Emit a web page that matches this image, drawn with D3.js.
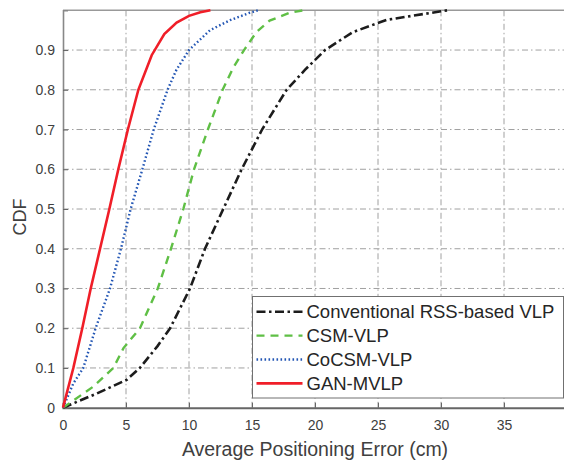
<!DOCTYPE html>
<html>
<head>
<meta charset="utf-8">
<script src="https://cdn.jsdelivr.net/npm/d3@7"></script>
<style>
  body { margin: 0; background: #fff; }
  svg { display: block; font-family: "Liberation Sans", Arial, sans-serif; }
</style>
</head>
<body>
<div id="chart"></div>
<script>
// data (error in cm, CDF)
var conventionalX = [0, 2.7, 5.05, 6.1, 7.5, 8.5, 10.08, 11.27, 12.72, 14.18, 15.8, 17.75, 19.2, 20.8, 23.0, 25.7, 30.5];
var conventionalY = [0, 0.036, 0.07, 0.1, 0.155, 0.2, 0.3, 0.4, 0.5, 0.6, 0.7, 0.8, 0.85, 0.9, 0.945, 0.976, 1.0];

var csmX = [0, 2.4, 4.0, 4.8, 6.11, 7.52, 8.57, 9.55, 10.4, 11.5, 12.67, 13.5, 14.37, 15.37, 16.4, 18.0, 19.1];
var csmY = [0, 0.053, 0.1, 0.15, 0.2, 0.3, 0.4, 0.5, 0.6, 0.7, 0.8, 0.855, 0.9, 0.946, 0.974, 0.994, 1.0];

var cocsmX = [0, 0.82, 1.61, 2.59, 3.73, 4.6, 5.37, 6.3, 7.2, 8.3, 9.0, 10.0, 11.67, 13.25, 14.84, 15.5];
var cocsmY = [0, 0.061, 0.1, 0.2, 0.3, 0.4, 0.5, 0.6, 0.7, 0.8, 0.85, 0.9, 0.95, 0.975, 0.994, 1.0];

var ganX = [0, 0.82, 1.53, 2.2, 2.94, 3.68, 4.39, 5.15, 5.98, 7.04, 8.04, 9.02, 10.0, 10.9, 11.7];
var ganY = [0, 0.1, 0.2, 0.3, 0.4, 0.5, 0.6, 0.7, 0.8, 0.887, 0.94, 0.969, 0.986, 0.995, 1.0];

var seriesNames = ["Conventional RSS-based VLP", "CSM-VLP", "CoCSM-VLP", "GAN-MVLP"];
var xTicks = [0, 5, 10, 15, 20, 25, 30, 35];
var yTicks = [0, 0.1, 0.2, 0.3, 0.4, 0.5, 0.6, 0.7, 0.8, 0.9];

var svgWidth = 564;
var svgHeight = 460;

var margin = { top: 10.3, left: 63 };
var width = 504;
var height = 397.4;

var styles = [
  { color: "#1c1c1c", dash: "9,3.5,2.5,3.5", w: 2.6 },
  { color: "#5fbf45", dash: "8,6", w: 2.4 },
  { color: "#2356b4", dash: "1.6,2.4", w: 2.4 },
  { color: "#f01e28", dash: null, w: 2.6 }
];

var series = [
  d3.zip(conventionalX, conventionalY),
  d3.zip(csmX, csmY),
  d3.zip(cocsmX, cocsmY),
  d3.zip(ganX, ganY)
];

var svg = d3.select("#chart")
  .append("svg")
  .attr("width", svgWidth)
  .attr("height", svgHeight);

var chartGroup = svg.append("g")
  .attr("transform", `translate(${margin.left}, ${margin.top})`);

var xScale = d3.scaleLinear().domain([0, 40]).range([0, width]);
var yScale = d3.scaleLinear().domain([0, 1]).range([height, 0]);

// grid
chartGroup.append("g")
  .selectAll("line")
  .data(xTicks.slice(1))
  .enter()
  .append("line")
  .attr("x1", d => xScale(d)).attr("x2", d => xScale(d))
  .attr("y1", 0).attr("y2", height)
  .attr("stroke", "#a0a0a0")
  .attr("stroke-width", 1)
  .attr("stroke-dasharray", "6,3,1.5,3");

chartGroup.append("g")
  .selectAll("line")
  .data(yTicks.slice(1))
  .enter()
  .append("line")
  .attr("x1", 0).attr("x2", width)
  .attr("y1", d => yScale(d)).attr("y2", d => yScale(d))
  .attr("stroke", "#a0a0a0")
  .attr("stroke-width", 1)
  .attr("stroke-dasharray", "6,3,1.5,3");

// top border
chartGroup.append("line")
  .attr("x1", 0).attr("x2", width)
  .attr("y1", 0).attr("y2", 0)
  .attr("stroke", "#999")
  .attr("stroke-width", 1.6);

// axes
var bottomAxis = d3.axisBottom(xScale).tickValues(xTicks).tickSize(-5).tickPadding(12);
var leftAxis = d3.axisLeft(yScale).tickValues(yTicks)
  .tickFormat(d => d === 0 ? "0" : d3.format(".1f")(d))
  .tickSize(-5).tickPadding(8);

var xAxisG = chartGroup.append("g")
  .attr("transform", `translate(0, ${height})`)
  .call(bottomAxis);

var yAxisG = chartGroup.append("g")
  .call(leftAxis);

xAxisG.select(".domain").attr("stroke", "#666").attr("stroke-width", 2);
yAxisG.select(".domain").attr("stroke", "#888").attr("stroke-width", 1.6);
chartGroup.selectAll(".tick line").attr("stroke", "#666");
chartGroup.selectAll(".tick text")
  .attr("fill", "#404040")
  .style("font-size", "14px");

// curves
var line = d3.line()
  .x(d => xScale(d[0]))
  .y(d => yScale(d[1]));

chartGroup.selectAll(".curve")
  .data(series)
  .enter()
  .append("path")
  .attr("class", "curve")
  .attr("d", line)
  .attr("fill", "none")
  .attr("stroke", (d, i) => styles[i].color)
  .attr("stroke-width", (d, i) => styles[i].w)
  .attr("stroke-dasharray", (d, i) => styles[i].dash);

// legend
var legend = svg.append("g")
  .attr("transform", "translate(252.5, 296.5)");

legend.append("rect")
  .attr("width", 311)
  .attr("height", 101.5)
  .attr("fill", "#fff")
  .attr("stroke", "#707070")
  .attr("stroke-width", 1);

var items = legend.selectAll(".item")
  .data(seriesNames)
  .enter()
  .append("g")
  .attr("transform", (d, i) => `translate(0, ${15.2 + i * 23.9})`);

items.append("line")
  .attr("x1", 4).attr("x2", 50)
  .attr("stroke", (d, i) => styles[i].color)
  .attr("stroke-width", (d, i) => styles[i].w)
  .attr("stroke-dasharray", (d, i) => styles[i].dash);

items.append("text")
  .attr("x", 54)
  .attr("dy", "0.36em")
  .attr("fill", "#262626")
  .style("font-size", "18.5px")
  .text(d => d);

// axis labels
svg.append("text")
  .attr("x", margin.left + xScale(20))
  .attr("y", 456)
  .attr("text-anchor", "middle")
  .attr("fill", "#404040")
  .style("font-size", "19.5px")
  .text("Average Positioning Error (cm)");

svg.append("text")
  .attr("transform", `translate(26, ${margin.top + yScale(0.48)}) rotate(-90)`)
  .attr("text-anchor", "middle")
  .attr("fill", "#404040")
  .style("font-size", "18px")
  .text("CDF");
</script>
</body>
</html>
